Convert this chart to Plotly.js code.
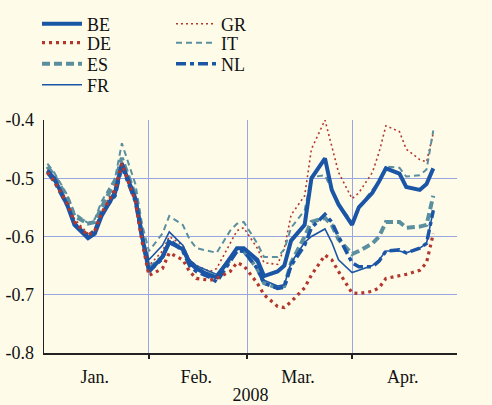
<!DOCTYPE html>
<html><head><meta charset="utf-8">
<script src="https://cdn.plot.ly/plotly-3.0.1.min.js"></script>
<style>html,body{margin:0;padding:0;background:#FEFCE9;}</style>
</head><body>
<div id="chart" style="width:492px;height:405px;"></div>
<script>
const dates = ['2008-01-02','2008-01-04','2008-01-08','2008-01-10','2008-01-14','2008-01-16','2008-01-18','2008-01-22','2008-01-24','2008-01-28','2008-01-30',
 '2008-02-01','2008-02-05','2008-02-07','2008-02-11','2008-02-13','2008-02-15','2008-02-19','2008-02-21','2008-02-25','2008-02-27','2008-02-29',
 '2008-03-04','2008-03-06','2008-03-10','2008-03-12','2008-03-14','2008-03-18','2008-03-20','2008-03-24','2008-03-26','2008-03-28',
 '2008-04-01','2008-04-03','2008-04-07','2008-04-09','2008-04-11','2008-04-15','2008-04-17','2008-04-21','2008-04-23','2008-04-25'];

const BE = [-0.487,-0.500,-0.548,-0.580,-0.603,-0.595,-0.565,-0.525,-0.475,-0.535,-0.600,
 -0.660,-0.635,-0.610,-0.622,-0.645,-0.655,-0.667,-0.670,-0.637,-0.620,-0.620,
 -0.640,-0.668,-0.660,-0.650,-0.607,-0.580,-0.500,-0.466,-0.520,-0.545,
 -0.580,-0.550,-0.525,-0.505,-0.483,-0.492,-0.515,-0.520,-0.510,-0.483];
const DE = [-0.490,-0.505,-0.545,-0.575,-0.598,-0.590,-0.560,-0.520,-0.475,-0.540,-0.610,
 -0.667,-0.655,-0.628,-0.640,-0.660,-0.672,-0.675,-0.672,-0.660,-0.645,-0.650,
 -0.680,-0.700,-0.720,-0.722,-0.712,-0.688,-0.666,-0.632,-0.640,-0.660,
 -0.697,-0.698,-0.694,-0.688,-0.672,-0.668,-0.665,-0.658,-0.645,-0.595];
const ES = [-0.480,-0.495,-0.535,-0.565,-0.578,-0.575,-0.550,-0.505,-0.465,-0.530,-0.600,
 -0.655,-0.635,-0.610,-0.620,-0.645,-0.655,-0.665,-0.670,-0.640,-0.625,-0.625,
 -0.655,-0.680,-0.688,-0.685,-0.645,-0.600,-0.575,-0.568,-0.580,-0.605,
 -0.630,-0.625,-0.612,-0.600,-0.575,-0.575,-0.585,-0.583,-0.580,-0.530];
const FR = [-0.490,-0.505,-0.545,-0.575,-0.600,-0.592,-0.562,-0.520,-0.475,-0.535,-0.600,
 -0.640,-0.615,-0.592,-0.615,-0.640,-0.650,-0.660,-0.665,-0.635,-0.620,-0.620,
 -0.645,-0.675,-0.685,-0.683,-0.645,-0.610,-0.600,-0.587,-0.610,-0.640,
 -0.662,-0.658,-0.650,-0.640,-0.625,-0.625,-0.628,-0.620,-0.612,-0.555];
const GR = [-0.485,-0.500,-0.540,-0.570,-0.595,-0.588,-0.558,-0.515,-0.470,-0.530,-0.600,
 -0.650,-0.625,-0.600,-0.615,-0.640,-0.650,-0.660,-0.655,-0.612,-0.590,-0.585,
 -0.620,-0.645,-0.648,-0.620,-0.563,-0.530,-0.450,-0.400,-0.445,-0.490,
 -0.535,-0.525,-0.490,-0.455,-0.410,-0.420,-0.450,-0.468,-0.472,-0.422];
const IT = [-0.475,-0.490,-0.530,-0.560,-0.577,-0.570,-0.540,-0.500,-0.440,-0.510,-0.580,
 -0.625,-0.595,-0.565,-0.580,-0.605,-0.620,-0.625,-0.628,-0.590,-0.578,-0.575,
 -0.612,-0.635,-0.635,-0.622,-0.585,-0.555,-0.498,-0.495,-0.520,-0.545,
 -0.575,-0.550,-0.520,-0.505,-0.480,-0.482,-0.497,-0.495,-0.485,-0.418];
const NL = [-0.490,-0.505,-0.548,-0.578,-0.600,-0.590,-0.560,-0.530,-0.480,-0.540,-0.605,
 -0.660,-0.638,-0.605,-0.625,-0.650,-0.660,-0.670,-0.678,-0.642,-0.625,-0.625,
 -0.655,-0.680,-0.689,-0.687,-0.650,-0.615,-0.585,-0.562,-0.575,-0.600,
 -0.645,-0.652,-0.652,-0.642,-0.625,-0.623,-0.628,-0.620,-0.612,-0.555];

const monthLabels = ['Jan.','Feb.','Mar.','Apr.'];
const monthMid = ['2008-01-16','2008-02-15','2008-03-16','2008-04-16'];
const monthStarts = ['2008-02-01','2008-03-01','2008-04-01'];
const yTicks = [-0.8,-0.7,-0.6,-0.5,-0.4];
const yTickText = ['-0.8','-0.7','-0.6','-0.5','-0.4'];
const yearLabel = '2008';

const BLUE = '#1B55A6', RED = '#B3372D', TEAL = '#5B8F9F';
// legend rows: row1 BE GR, row2 DE IT, row3 ES NL, row4 FR
const series = [
  {name:'GR', y:GR, color:RED,  width:1.6, dash:'2px,3px', legend:'legend',  rank:2},
  {name:'IT', y:IT, color:TEAL, width:2,   dash:'6px,4px', legend:'legend2', rank:2},
  {name:'ES', y:ES, color:TEAL, width:4,   dash:'8px,4px', legend:'legend3', rank:1},
  {name:'FR', y:FR, color:BLUE, width:1.6, dash:'solid',   legend:'legend4', rank:1},
  {name:'BE', y:BE, color:BLUE, width:4,   dash:'solid',   legend:'legend',  rank:1},
  {name:'NL', y:NL, color:BLUE, width:3.5, dash:'10px,4px,4px,4px', legend:'legend3', rank:2},
  {name:'DE', y:DE, color:RED,  width:3.2, dash:'3px,4px', legend:'legend2', rank:1}
];
const traces = series.map(s => ({
  type:'scatter', mode:'lines', x:dates, y:s.y, name:s.name,
  line:{color:s.color, width:s.width, dash:s.dash},
  legend:s.legend, legendrank:s.rank, hoverinfo:'skip'
}));

const FONT = 'Liberation Serif, Times New Roman, serif';
const GRID = '#9AA6E2';
const legendBase = {xref:'container', yref:'container', yanchor:'middle', xanchor:'left', x:37/492,
  orientation:'h', entrywidth:79, entrywidthmode:'pixels',
  bgcolor:'rgba(0,0,0,0)', font:{family:FONT, size:18, color:'#111'}, tracegroupgap:0, itemwidth:40};
const rowY = [24, 43, 64, 85];
const layout = {
  width:492, height:405,
  paper_bgcolor:'#FEFCE9', plot_bgcolor:'#FEFCE9',
  font:{family:FONT, size:18, color:'#111'},
  margin:{l:44, r:35, t:120, b:52, autoexpand:false},
  showlegend:true,
  legend: Object.assign({}, legendBase, {y:1-rowY[0]/405}),
  legend2:Object.assign({}, legendBase, {y:1-rowY[1]/405}),
  legend3:Object.assign({}, legendBase, {y:1-rowY[2]/405}),
  legend4:Object.assign({}, legendBase, {y:1-rowY[3]/405}),
  xaxis:{type:'date', range:['2008-01-01','2008-05-02'],
         tickmode:'array', tickvals:monthMid, ticktext:monthLabels, ticks:'',
         showgrid:false, showline:true, linecolor:'#222', linewidth:1.5,
         ticklabelstandoff:7,
         minor:{tickmode:'array', tickvals:monthStarts, showgrid:true, gridcolor:GRID, gridwidth:1,
                ticks:'outside', ticklen:4, tickcolor:'#222', tickwidth:1.5},
         title:{text:yearLabel, standoff:3, font:{family:FONT, size:18}},
         zeroline:false, fixedrange:true},
  yaxis:{range:[-0.8,-0.4], tickmode:'array', tickvals:yTicks, ticktext:yTickText,
         showgrid:true, gridcolor:GRID, gridwidth:1, showline:true, linecolor:'#222', linewidth:1.5,
         ticks:'', ticklabelstandoff:5, zeroline:false},
  yaxis2:{range:[-0.8,-0.4], overlaying:'y', side:'right', tickmode:'array', tickvals:yTicks, ticktext:yTickText,
          showgrid:false, showline:true, linecolor:'#222', linewidth:1.5, ticks:'', ticklabelstandoff:7, zeroline:false}
};
Plotly.newPlot('chart', traces, layout, {displayModeBar:false, staticPlot:true});
</script>
</body></html>
